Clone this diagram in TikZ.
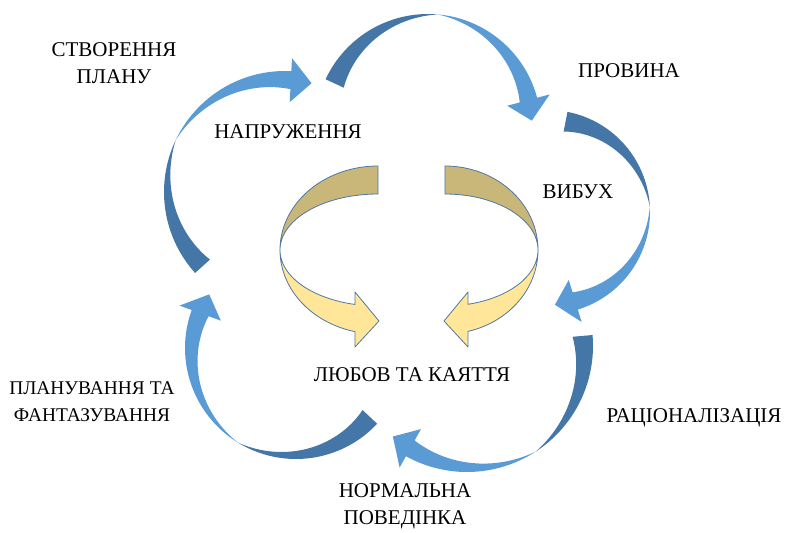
\documentclass[tikz,border=0pt]{standalone}
\usepackage{fontspec}
\setmainfont{Liberation Serif}
\definecolor{arrowlight}{RGB}{91,155,213}
\definecolor{arrowdark}{RGB}{68,118,168}
\definecolor{ribbontan}{RGB}{201,183,122}
\definecolor{ribbonyellow}{RGB}{255,230,153}
\definecolor{ribbonedge}{RGB}{80,120,160}
\tikzset{
stagelabel/.style={
    align=center,
    inner sep=0pt,
    anchor=north,
    font=\fontsize{21}{27}\selectfont
},
stagelabelnarrow/.style={
    stagelabel,
    font=\fontsize{19.4}{27}\selectfont
},
arrowfront/.style={
    fill=arrowlight
},
arrowback/.style={
    fill=arrowdark
},
ribbonfront/.style={
    fill=ribbonyellow,
    draw=ribbonedge,
    line width=0.8pt,
    line join=round
},
ribbonback/.style={
    ribbonfront,
    fill=ribbontan
},
}
% curved blue arrow: outer radius, start angle, end angle (clockwise)
\tikzset{pics/cyclearrow/.style n args={3}{code={
%
\pgfmathsetmacro\amid{(#2+#3)/2}
\pgfmathsetmacro\atip{#3-1300/#1}
\fill [arrowback] plot [domain=#2:\amid,samples=40] (\x:#1)
    -- plot [domain=\amid:#2,samples=40] (\x:{#1-20*(\x-(\amid))/(#2-(\amid))}) -- cycle;
\fill [arrowfront] plot [domain=\amid:#3,samples=40] (\x:#1)
    -- (#3:{#1+13}) -- (\atip:{#1-9}) -- (#3:{#1-31})
    -- plot [domain=#3:\amid,samples=40] (\x:{#1-18*(\amid-\x)/(\amid-(#3))}) -- cycle;
%
}}}
% yellow ribbon arrow turning under, head to the right
\tikzset{pics/ribbon/.style={code={
%
\pgfmathsetmacro\ahead{180+acos(23/#1)}
\draw [ribbonback] plot [domain=90:180,samples=40] ({#1*cos(\x)},{84*sin(\x)})
    -- plot [domain=180:90,samples=40] ({#1*cos(\x)},{56*sin(\x)}) -- cycle;
\draw [ribbonfront] plot [domain=180:\ahead,samples=40] ({#1*cos(\x)},{84*sin(\x)})
    -- (-23,-97) -- (1,-71) -- (-23,-42)
    -- plot [domain=\ahead:180,samples=40] ({#1*cos(\x)},{56*sin(\x)}) -- cycle;
%
}}}

\begin{document}
\begin{tikzpicture}[x=1pt,y=1pt]

\useasboundingbox (0,0) rectangle (785,-533);

\pic at (428,-127) {cyclearrow={113}{155}{15}};
\pic at (548,-212) {cyclearrow={102}{79}{-73}};
\pic at (467,-346) {cyclearrow={126}{5}{-119}};
\pic at (296,-348) {cyclearrow={111}{-43}{-200}};
\pic at (285,-192) {cyclearrow={121}{222}{87}};

\pic at (378,-250) {ribbon=98};
\pic [xscale=-1] at (445,-250) {ribbon=93};

\node (plan) [stagelabel] at (114,-42) {СТВОРЕННЯ\\ПЛАНУ};
\node (provyna) [stagelabel] at (629,-63) {ПРОВИНА};
\node (napruga) [stagelabel] at (288,-124) {НАПРУЖЕННЯ};
\node (vybukh) [stagelabel] at (578,-185) {ВИБУХ};
\node (liubov) [stagelabel] at (412,-367) {ЛЮБОВ ТА КАЯТТЯ};
\node (fantaz) [stagelabelnarrow] at (92,-381) {ПЛАНУВАННЯ ТА\\ФАНТАЗУВАННЯ};
\node (ratsio) [stagelabel] at (694,-408) {РАЦІОНАЛІЗАЦІЯ};
\node (normal) [stagelabel] at (405,-483) {НОРМАЛЬНА\\ПОВЕДІНКА};

\end{tikzpicture}
\end{document}
